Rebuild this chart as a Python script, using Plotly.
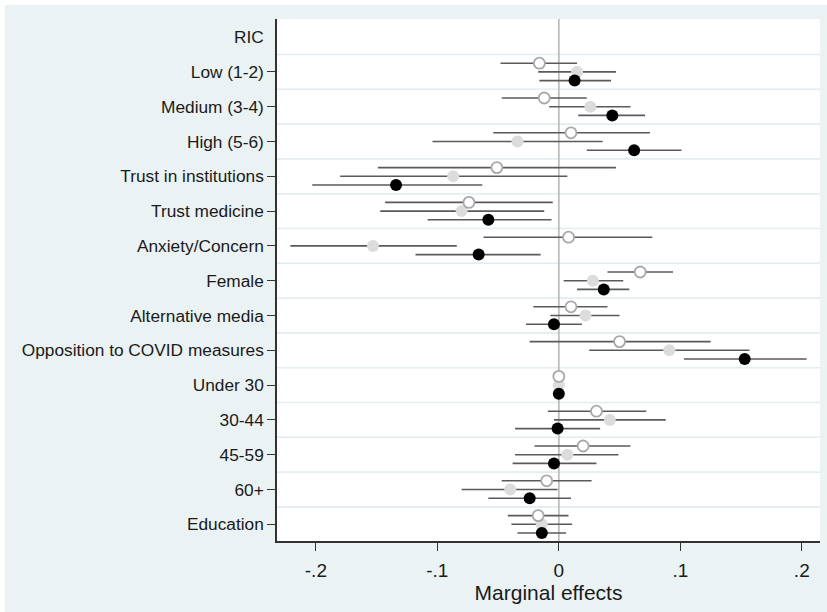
import plotly.graph_objects as go

categories = ["RIC", "Low (1-2)", "Medium (3-4)", "High (5-6)", "Trust in institutions",
              "Trust medicine", "Anxiety/Concern", "Female", "Alternative media",
              "Opposition to COVID measures", "Under 30", "30-44", "45-59", "60+", "Education"]

# series values (None = header row without estimate)
hollow_est = [None, -0.016, -0.012, 0.010, -0.051, -0.074, 0.008, 0.067, 0.010, 0.050, 0.0, 0.031, 0.020, -0.010, -0.017]
hollow_lo  = [None, -0.048, -0.047, -0.054, -0.149, -0.143, -0.062, 0.040, -0.021, -0.024, 0.0, -0.009, -0.020, -0.047, -0.042]
hollow_hi  = [None, 0.015, 0.023, 0.075, 0.047, -0.005, 0.077, 0.094, 0.040, 0.125, 0.0, 0.072, 0.059, 0.027, 0.008]

gray_est = [None, 0.015, 0.026, -0.034, -0.087, -0.080, -0.153, 0.028, 0.022, 0.091, 0.0, 0.042, 0.007, -0.040, -0.014]
gray_lo  = [None, -0.017, -0.008, -0.104, -0.180, -0.147, -0.221, 0.004, -0.007, 0.025, 0.0, -0.004, -0.036, -0.080, -0.039]
gray_hi  = [None, 0.047, 0.059, 0.036, 0.007, -0.012, -0.084, 0.053, 0.050, 0.157, 0.0, 0.088, 0.049, -0.001, 0.011]

black_est = [None, 0.013, 0.044, 0.062, -0.134, -0.058, -0.066, 0.037, -0.004, 0.153, 0.0, -0.001, -0.004, -0.024, -0.014]
black_lo  = [None, -0.016, 0.016, 0.023, -0.203, -0.108, -0.118, 0.015, -0.027, 0.103, 0.0, -0.036, -0.038, -0.058, -0.034]
black_hi  = [None, 0.043, 0.071, 0.101, -0.063, -0.006, -0.015, 0.058, 0.019, 0.204, 0.0, 0.034, 0.031, 0.010, 0.006]

x_ticks = [-0.2, -0.1, 0, 0.1, 0.2]
x_ticklabels = ["-.2", "-.1", "0", ".1", ".2"]

BG = "#EAF2F3"
FONT = "Liberation Sans, Arial, sans-serif"
CI_COLOR = "#5a5a5a"


def series(est, lo, hi, offset, marker, name):
    xs, ys, plus, minus = [], [], [], []
    for i, (e, l, h) in enumerate(zip(est, lo, hi)):
        if e is None:
            continue
        xs.append(e)
        ys.append(i + offset)
        plus.append(h - e)
        minus.append(e - l)
    return go.Scatter(
        x=xs, y=ys, mode="markers", name=name, showlegend=False,
        marker=marker,
        error_x=dict(type="data", symmetric=False, array=plus, arrayminus=minus,
                     color=CI_COLOR, thickness=1.6, width=0),
    )


fig = go.Figure()
fig.add_trace(series(gray_est, gray_lo, gray_hi, 0.0,
                     dict(symbol="circle", size=12, color="#DCDCDC", line=dict(width=0)), "gray"))
fig.add_trace(series(hollow_est, hollow_lo, hollow_hi, -0.25,
                     dict(symbol="circle", size=11, color="white", line=dict(color="#A8A8A8", width=1.8)), "hollow"))
fig.add_trace(series(black_est, black_lo, black_hi, 0.25,
                     dict(symbol="circle", size=12, color="black", line=dict(width=0)), "black"))

shapes = []
# horizontal grid lines between categories
for i in range(len(categories) - 1):
    shapes.append(dict(type="line", xref="paper", yref="y", x0=0, x1=1, y0=i + 0.5, y1=i + 0.5,
                       line=dict(color="#E3ECEF", width=1.6), layer="below"))
# zero reference line
shapes.append(dict(type="line", xref="x", yref="paper", x0=0, x1=0, y0=0, y1=1,
                   line=dict(color="#BDBDBD", width=1.8), layer="below"))

fig.update_layout(
    width=822, height=607,
    margin=dict(l=272, r=7, t=14, b=71),
    paper_bgcolor=BG, plot_bgcolor="white",
    font=dict(family=FONT, color="#1a1a1a"),
    shapes=shapes,
    xaxis=dict(range=[-0.232, 0.215], tickvals=x_ticks, ticktext=x_ticklabels,
               showgrid=False, zeroline=False, showline=True, linecolor="#333333", linewidth=1.5,
               ticks="outside", ticklen=8, tickwidth=1.3, tickcolor="#333333",
               ticklabelstandoff=3,
               tickfont=dict(size=19, family=FONT), automargin=False,
               title=dict(text="Marginal effects", font=dict(size=21, family=FONT), standoff=6)),
    yaxis=dict(range=[14.48, -0.52], tickvals=list(range(1, len(categories))),
               ticktext=categories[1:], showgrid=False, zeroline=False,
               showline=True, linecolor="#333333", linewidth=1.5,
               ticks="outside", ticklen=8, tickwidth=1.3, tickcolor="#333333",
               tickfont=dict(size=17.3, family=FONT), automargin=False),
    annotations=[dict(text="RIC", xref="paper", yref="y", x=0, y=0, xanchor="right", yanchor="middle",
                      xshift=-11, showarrow=False, font=dict(size=17.3, family=FONT, color="#1a1a1a"))],
)

fig.write_html("out.html",
               post_script="document.body.style.margin='5px 0 0 5px';document.body.style.overflow='hidden';")
